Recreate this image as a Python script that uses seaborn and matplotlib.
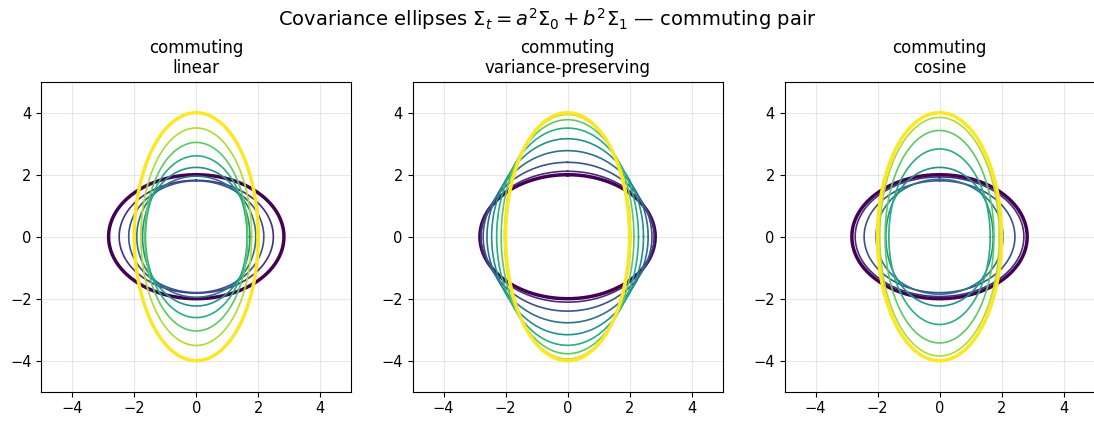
import numpy as np
import pandas as pd
import matplotlib
matplotlib.use("Agg")
import matplotlib.pyplot as plt
import seaborn as sns

# endpoint covariances (diagonal, so they commute)
sigma0 = np.array([[2.0, 0.0], [0.0, 1.0]])
sigma1 = np.array([[1.0, 0.0], [0.0, 4.0]])
n_std = 2.0

# t grid and the schedule coefficients a(t), b(t)
t_values = [0.0, 0.125, 0.25, 0.375, 0.5, 0.625, 0.75, 0.875, 1.0]
schedules = ['linear', 'variance-preserving', 'cosine']
a_linear = [1.0, 0.875, 0.75, 0.625, 0.5, 0.375, 0.25, 0.125, 0.0]
b_linear = [0.0, 0.125, 0.25, 0.375, 0.5, 0.625, 0.75, 0.875, 1.0]
a_vp = [1.0, 0.981, 0.924, 0.831, 0.707, 0.556, 0.383, 0.195, 0.0]
b_vp = [0.0, 0.195, 0.383, 0.556, 0.707, 0.831, 0.924, 0.981, 1.0]
a_cos = [1.0, 0.962, 0.854, 0.691, 0.5, 0.309, 0.146, 0.038, 0.0]
b_cos = [0.0, 0.038, 0.146, 0.309, 0.5, 0.691, 0.854, 0.962, 1.0]
coeffs = {
    'linear': (a_linear, b_linear),
    'variance-preserving': (a_vp, b_vp),
    'cosine': (a_cos, b_cos),
}

theta = np.linspace(0, 2 * np.pi, 200)
circle = np.vstack([np.cos(theta), np.sin(theta)])


def ellipse_points(cov):
    vals, vecs = np.linalg.eigh(cov)
    pts = vecs @ np.diag(n_std * np.sqrt(vals)) @ circle
    return pts[0], pts[1]


fig = plt.figure(figsize=(10.94, 4.21), dpi=100)
lefts = [0.0375, 0.3769, 0.7169]
cmap = plt.get_cmap('viridis')

for left, name in zip(lefts, schedules):
    ax = fig.add_axes([left, 0.0696, 0.2838, 0.7363])
    a_vals, b_vals = coeffs[name]
    for t, a, b in zip(t_values, a_vals, b_vals):
        cov = a ** 2 * sigma0 + b ** 2 * sigma1
        x, y = ellipse_points(cov)
        df = pd.DataFrame({'x': x, 'y': y})
        lw = 2.5 if t in (0.0, 1.0) else 1.2
        sns.lineplot(data=df, x='x', y='y', sort=False, estimator=None,
                     color=cmap(t), lw=lw, ax=ax)
    ax.set_xlim(-5, 5)
    ax.set_ylim(-5, 5)
    ax.set_aspect('equal')
    ax.set_xticks([-4, -2, 0, 2, 4])
    ax.set_yticks([-4, -2, 0, 2, 4])
    ax.tick_params(labelsize=10.5)
    ax.set_xlabel('')
    ax.set_ylabel('')
    ax.grid(True, alpha=0.3)
    ax.set_title('commuting\n' + name, fontsize=12)

fig.suptitle(r'Covariance ellipses $\Sigma_t = a^2\Sigma_0 + b^2\Sigma_1$ — commuting pair',
             fontsize=14, y=0.985)
fig.savefig('out.png', dpi=100)
